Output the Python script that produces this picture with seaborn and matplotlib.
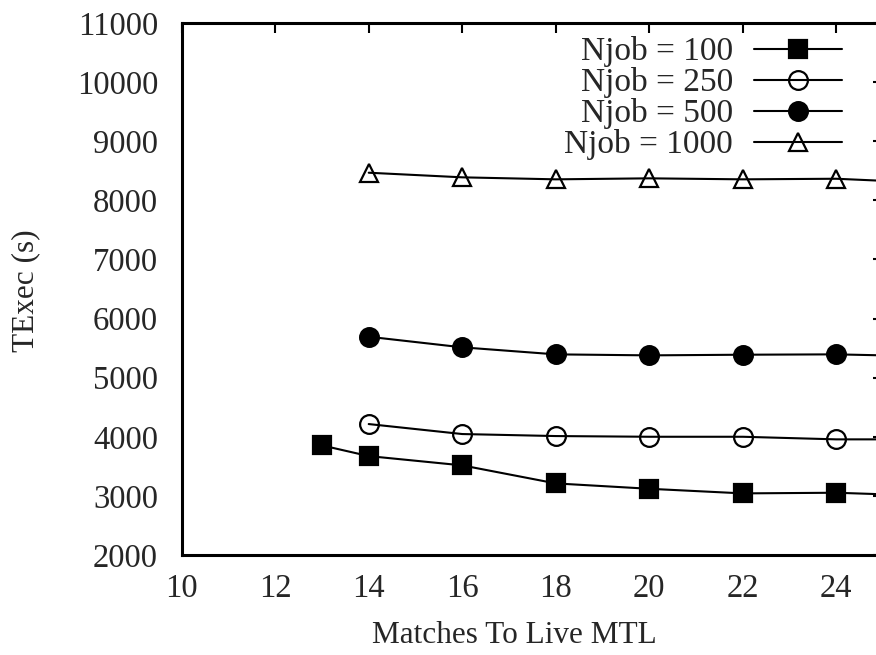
import numpy as np
import pandas as pd
import matplotlib
matplotlib.use("Agg")
import matplotlib.pyplot as plt
import seaborn as sns

# values
matches_100 = [13, 14, 16, 18, 20, 22, 24, 26]
texec_100 = [3854, 3673, 3516, 3211, 3120, 3042, 3053, 3000]

matches = [14, 16, 18, 20, 22, 24, 26]
texec_250 = [4215, 4046, 4012, 4000, 4000, 3956, 3956]
texec_500 = [5692, 5513, 5394, 5377, 5388, 5394, 5360]
texec_1000 = [8467, 8389, 8355, 8372, 8355, 8365, 8295]

labels = ["Njob = 100", "Njob = 250", "Njob = 500", "Njob = 1000"]
x_ticks = [10, 12, 14, 16, 18, 20, 22, 24]
y_ticks = [2000, 3000, 4000, 5000, 6000, 7000, 8000, 9000, 10000, 11000]

sns.set_style("white")
plt.rcParams["font.family"] = ["Liberation Serif", "DejaVu Serif"]

fig = plt.figure(figsize=(8.76, 6.55), dpi=100)
# the reference is cropped on the right, so the axes run past the figure edge
ax = fig.add_axes([0.2074, 0.1527, 0.8006, 0.8122])

series = [
    (matches_100, texec_100, "s", "black"),
    (matches, texec_250, "o", "none"),
    (matches, texec_500, "o", "black"),
    (matches, texec_1000, "^", "none"),
]
for (xs, ys, mk, face), lab in zip(series, labels):
    sns.lineplot(x=xs, y=ys, ax=ax, color="black", linewidth=1.5,
                 marker=mk, markersize=13.5, markerfacecolor=face,
                 markeredgecolor="black", markeredgewidth=1.6, label=lab)

ax.set_xlim(10, 25)
ax.set_ylim(2000, 11000)
ax.set_xticks(x_ticks)
ax.set_yticks(y_ticks)
ax.tick_params(axis="both", which="both", direction="in", top=True, right=True,
               length=7, width=1.5, labelsize=23.5, color="black")
ax.tick_params(axis="y", pad=17)
ax.tick_params(axis="x", pad=13.5)

for sp in ax.spines.values():
    sp.set_linewidth(2.2)
    sp.set_color("black")

ax.set_xlabel("Matches To Live MTL", fontsize=22.5)
ax.set_ylabel("TExec (s)", fontsize=22.5)
ax.xaxis.set_label_coords(0.4746, -0.125)
ax.yaxis.set_label_coords(-0.201, 0.496)

leg = ax.legend(loc="upper right", bbox_to_anchor=(0.9415, 0.975), frameon=False,
                markerfirst=False, fontsize=24, handlelength=2.64,
                handletextpad=0.63, labelspacing=0.0, borderpad=0,
                borderaxespad=0)

fig.savefig("out.png", dpi=100)
